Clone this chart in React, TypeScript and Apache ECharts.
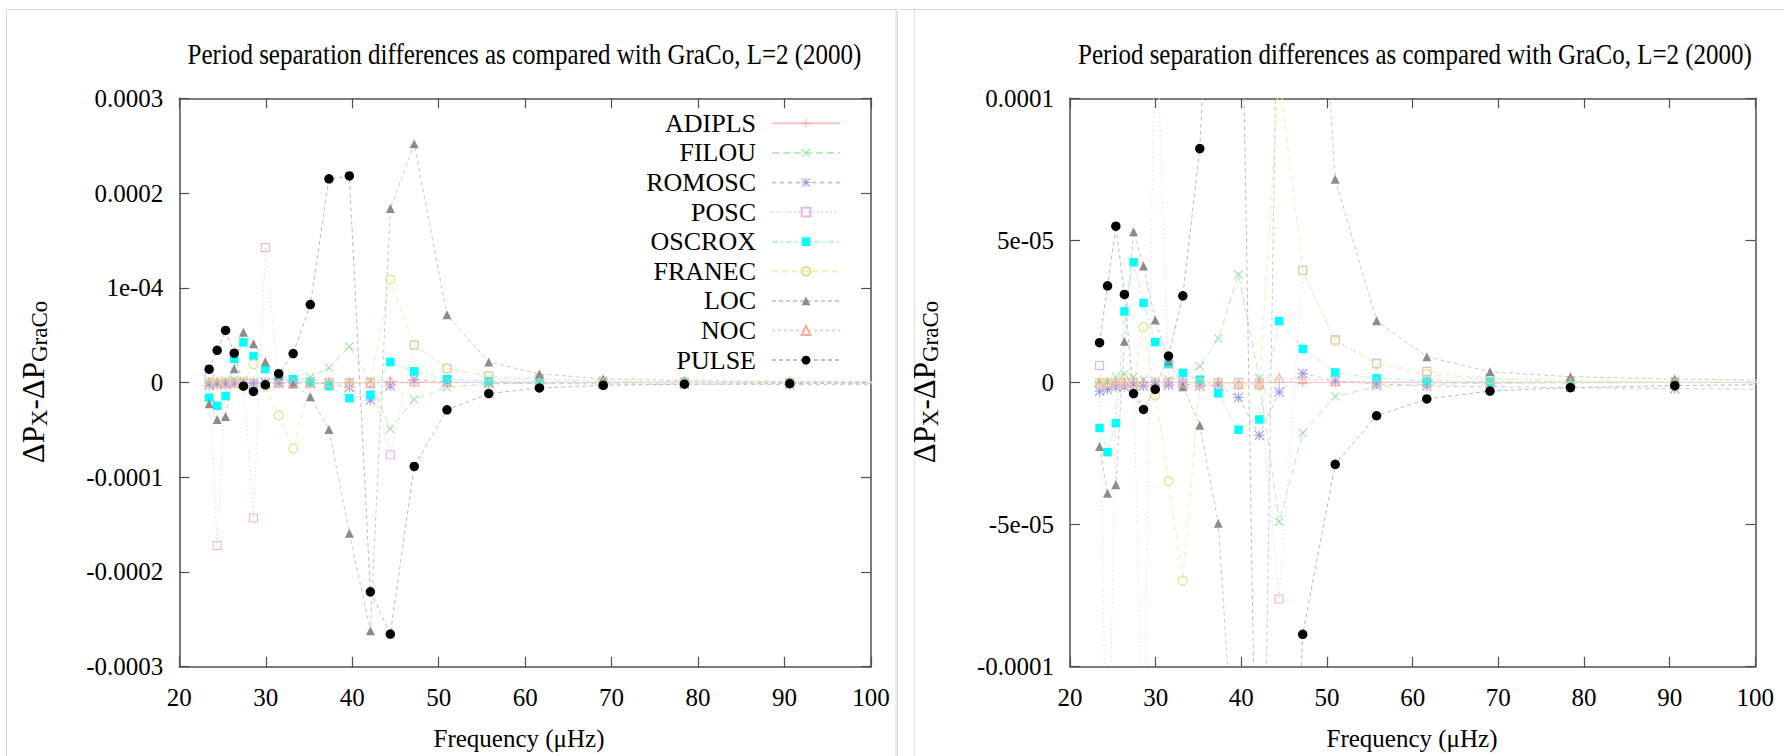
import { useEffect, useRef } from "react";
import * as echarts from "echarts";

// Mode frequencies (μHz) shared by every code
const frequency = [23.45, 24.38, 25.35, 26.35, 27.42, 28.58, 29.95, 31.5, 33.17, 35.15, 37.31, 39.67, 42.1, 44.41, 47.17, 50.96, 55.79, 61.65, 69.03, 78.42, 90.6, 108.0];

// Period separation differences against GraCo, per code
const adipls = [0, 0, 0, 0, 0, 0, 0, 0, 0, 0, 0, 0, 0, 0, 0, 0, 0, 0, 0, 0, 0, 0];
const filou = [0, 0, 2e-6, 3e-6, 2e-6, 1e-6, 5e-7, 1e-6, 2e-6, 5.7e-6, 1.55e-5, 3.8e-5, 1.5e-6, -4.9e-5, -1.78e-5, -4.9e-6, -1.5e-6, -6e-7, -3e-7, -1e-7, 0, 0];
const romosc = [-3.1e-6, -2.5e-6, -1.5e-6, -1.5e-6, -1e-6, -1.2e-6, -8e-7, -1e-6, -5e-7, -1.2e-6, -1e-6, -5.3e-6, -1.86e-5, -3.3e-6, 3.2e-6, 5e-7, -5e-7, -1.2e-6, -1.5e-6, -1.8e-6, -2.2e-6, -2.4e-6];
const posc = [6e-6, -1.72e-4, -1e-6, 0, 0, -1.43e-4, 1.425e-4, 0, 0, 0, 0, 0, 0, -7.62e-5, 3.95e-5, 1.5e-5, 6.8e-6, 3.9e-6, 1.5e-6, 6e-7, 3e-7, 0];
const oscrox = [-1.6e-5, -2.45e-5, -1.43e-5, 2.5e-5, 4.23e-5, 2.8e-5, 1.42e-5, 6.5e-6, 3.4e-6, 1.0e-6, -3.8e-6, -1.66e-5, -1.3e-5, 2.16e-5, 1.18e-5, 3.5e-6, 1.5e-6, 6e-7, 3e-7, 1.5e-7, 0, 0];
const franec = [0, 0, 0, 0, 0, 1.95e-5, -4.5e-6, -3.47e-5, -6.97e-5, 0, 0, -1e-6, -1e-6, 1.085e-4, 3.95e-5, 1.47e-5, 6.5e-6, 3.0e-6, 1.2e-6, 5e-7, 2e-7, 0];
const loc = [-2.25e-5, -3.9e-5, -3.6e-5, 1.45e-5, 5.3e-5, 4.1e-5, 2.2e-5, 7.5e-6, -1.5e-6, -1.5e-5, -4.95e-5, -1.59e-4, -2.62e-4, 1.837e-4, 2.52e-4, 7.15e-5, 2.17e-5, 9.1e-6, 3.8e-6, 2.0e-6, 1.2e-6, 6e-7];
const noc = [0, 0, 0, 0, 0, 0, 0, 0, 0, 0, 0, -5e-7, -5e-7, 1.6e-6, 1.2e-6, 5e-7, 3e-7, 2e-7, 1e-7, 0, 0, 0];
const pulse = [1.4e-5, 3.4e-5, 5.5e-5, 3.1e-5, -3.9e-6, -9.5e-6, -2.4e-6, 9.3e-6, 3.05e-5, 8.23e-5, 2.15e-4, 2.18e-4, -2.21e-4, -2.655e-4, -8.86e-5, -2.88e-5, -1.17e-5, -5.8e-6, -3.0e-6, -1.8e-6, -1.1e-6, -5e-7];

const seriesNames = ["ADIPLS", "FILOU", "ROMOSC", "POSC", "OSCROX", "FRANEC", "LOC", "NOC", "PULSE"];
const seriesValues = [adipls, filou, romosc, posc, oscrox, franec, loc, noc, pulse];

// Tick labels, bottom to top
const xTickLabels = ["20", "30", "40", "50", "60", "70", "80", "90", "100"];
const leftYTickLabels = ["-0.0003", "-0.0002", "-0.0001", "0", "1e-04", "0.0002", "0.0003"];
const rightYTickLabels = ["-0.0001", "-5e-05", "0", "5e-05", "0.0001"];

const TITLE = "Period separation differences as compared with GraCo, L=2 (2000)";
const X_NAME = "Frequency (\u03bcHz)";
const FONT = '"Liberation Serif", "Times New Roman", serif';

// Point symbols
const PLUS = "path://M9,0h2v9h9v2h-9v9h-2v-9h-9v-2h9z";
const CROSS = "path://M0,1.5L1.5,0L10,8.5L18.5,0L20,1.5L11.5,10L20,18.5L18.5,20L10,11.5L1.5,20L0,18.5L8.5,10Z";
const STAR = PLUS + "M0,1.5L1.5,0L10,8.5L18.5,0L20,1.5L11.5,10L20,18.5L18.5,20L10,11.5L1.5,20L0,18.5L8.5,10Z";

type Look = { symbol: string; size: number; fill: string; border?: string; line: string; dash: any };
const looks: Record<string, Look> = {
  ADIPLS: { symbol: PLUS, size: 10, fill: "#f4a4a4", line: "#f8c4c4", dash: "solid" },
  FILOU: { symbol: CROSS, size: 9, fill: "#98de98", line: "#bcecbc", dash: [7, 4] },
  ROMOSC: { symbol: STAR, size: 10, fill: "#9a9af2", line: "#c4c4f6", dash: [4, 4] },
  POSC: { symbol: "rect", size: 8, fill: "rgba(0,0,0,0)", border: "#e6b4e6", line: "#f2d2f2", dash: [1.5, 3] },
  OSCROX: { symbol: "rect", size: 8.5, fill: "#00ffff", line: "#b8f0f0", dash: [6, 3, 2, 3] },
  FRANEC: { symbol: "circle", size: 9, fill: "rgba(0,0,0,0)", border: "#e0e088", line: "#f0f0b8", dash: [6, 4] },
  LOC: { symbol: "triangle", size: 9, fill: "#8c8c8c", line: "#cccccc", dash: [4, 3] },
  NOC: { symbol: "triangle", size: 9, fill: "rgba(0,0,0,0)", border: "#f2b09c", line: "#f8d4c8", dash: [3, 3] },
  PULSE: { symbol: "circle", size: 9.5, fill: "#000000", line: "#bdbdbd", dash: [4, 3] },
};

const AXIS_COLOR = "#505050";

function makeAxes(grid: number, yMin: number, yMax: number, yStep: number, yLabels: string[]) {
  const line = { show: true, onZero: false, lineStyle: { color: AXIS_COLOR, width: 1.5 } };
  const tick = { show: true, inside: true, length: 10, lineStyle: { color: AXIS_COLOR, width: 1.2 } };
  const xBase = { type: "value" as const, gridIndex: grid, min: 20, max: 100, interval: 10, splitLine: { show: false }, axisLine: line, axisTick: tick };
  const yBase = { type: "value" as const, gridIndex: grid, min: yMin, max: yMax, interval: yStep, splitLine: { show: false }, axisLine: line, axisTick: tick };
  const labelStyle = { fontFamily: FONT, fontSize: 25, color: "#000" };
  const xAxes = [
    { ...xBase, position: "bottom", axisLabel: { ...labelStyle, margin: 18, formatter: (v: number) => xTickLabels[Math.round((v - 20) / 10)] ?? "" } },
    { ...xBase, position: "top", axisLabel: { show: false } },
  ];
  const yAxes = [
    { ...yBase, position: "left", axisLabel: { ...labelStyle, margin: 16, formatter: (v: number) => yLabels[Math.round((v - yMin) / yStep)] ?? "" } },
    { ...yBase, position: "right", axisLabel: { show: false } },
  ];
  return { xAxes, yAxes };
}

function makeSeries(axisIndex: number) {
  return seriesNames.map((name, k) => {
    const look = looks[name];
    return {
      type: "line",
      name,
      xAxisIndex: axisIndex,
      yAxisIndex: axisIndex,
      data: frequency.map((f, i) => [f, seriesValues[k][i]]),
      symbol: look.symbol,
      symbolSize: look.size,
      showSymbol: true,
      showAllSymbol: true,
      clip: true,
      silent: true,
      emphasis: { disabled: true },
      lineStyle: { color: look.line, width: 1, type: look.dash },
      itemStyle: look.border
        ? { color: look.fill, borderColor: look.border, borderWidth: 1.1 }
        : { color: look.fill, borderWidth: 0 },
    };
  });
}

function yName(x: number, y: number) {
  return {
    type: "text",
    x,
    y,
    rotation: Math.PI / 2,
    style: {
      text: "{m|\u0394P}{s|X}{m|-\u0394P}{s|GraCo}",
      align: "center",
      verticalAlign: "middle",
      fill: "#000",
      rich: {
        m: { fontFamily: FONT, fontSize: 31, lineHeight: 36, verticalAlign: "middle" },
        s: { fontFamily: FONT, fontSize: 23, lineHeight: 23, verticalAlign: "bottom" },
      },
    },
  };
}

function textAt(x: number, y: number, text: string, size: number, stretch: number) {
  return {
    type: "text",
    x,
    y,
    scaleY: stretch,
    style: { text, fontFamily: FONT, fontSize: size, fill: "#000", align: "center", verticalAlign: "middle" },
  };
}

export default function App() {
  const ref = useRef<HTMLDivElement>(null);

  useEffect(() => {
    if (!ref.current) return;
    const chart = echarts.init(ref.current, undefined, { renderer: "svg" });
    const left = makeAxes(0, -3e-4, 3e-4, 1e-4, leftYTickLabels);
    const right = makeAxes(1, -1e-4, 1e-4, 5e-5, rightYTickLabels);

    chart.setOption({
      animation: false,
      backgroundColor: "#ffffff",
      grid: [
        { left: 179.3, top: 98.3, width: 691.7, height: 568.4 },
        { left: 1070, top: 98.3, width: 685.3, height: 568.4 },
      ],
      xAxis: [...left.xAxes, ...right.xAxes],
      yAxis: [...left.yAxes, ...right.yAxes],
      legend: {
        data: seriesNames,
        orient: "vertical",
        align: "right",
        right: 943,
        top: 108.5,
        padding: 0,
        itemGap: 0,
        itemWidth: 68,
        itemHeight: 11,
        selectedMode: false,
        textStyle: { fontFamily: FONT, fontSize: 26, color: "#000", lineHeight: 29.6, padding: [0, 11, 0, 0] },
      },
      series: [...makeSeries(0), ...makeSeries(2)],
      graphic: [
        { type: "rect", silent: true, shape: { x: 6.5, y: 9.5, width: 889.5, height: 760 }, style: { fill: "none", stroke: "#d8d8d8", lineWidth: 1 } },
        { type: "rect", silent: true, shape: { x: 897.5, y: 9.5, width: 900, height: 760 }, style: { fill: "none", stroke: "#d8d8d8", lineWidth: 1 } },
        { type: "line", silent: true, shape: { x1: 914.5, y1: 9.5, x2: 914.5, y2: 760 }, style: { stroke: "#e2e2e2", lineWidth: 1 } },
        textAt(524.5, 54, TITLE, 25, 1.15),
        textAt(1415, 54, TITLE, 25, 1.15),
        textAt(519, 738, X_NAME, 25, 1),
        textAt(1412, 738, X_NAME, 25, 1),
        yName(33, 382),
        yName(924, 382),
      ],
    });
    return () => chart.dispose();
  }, []);

  return <div ref={ref} style={{ position: "absolute", left: 0, top: 0, width: 1784, height: 756 }} />;
}
